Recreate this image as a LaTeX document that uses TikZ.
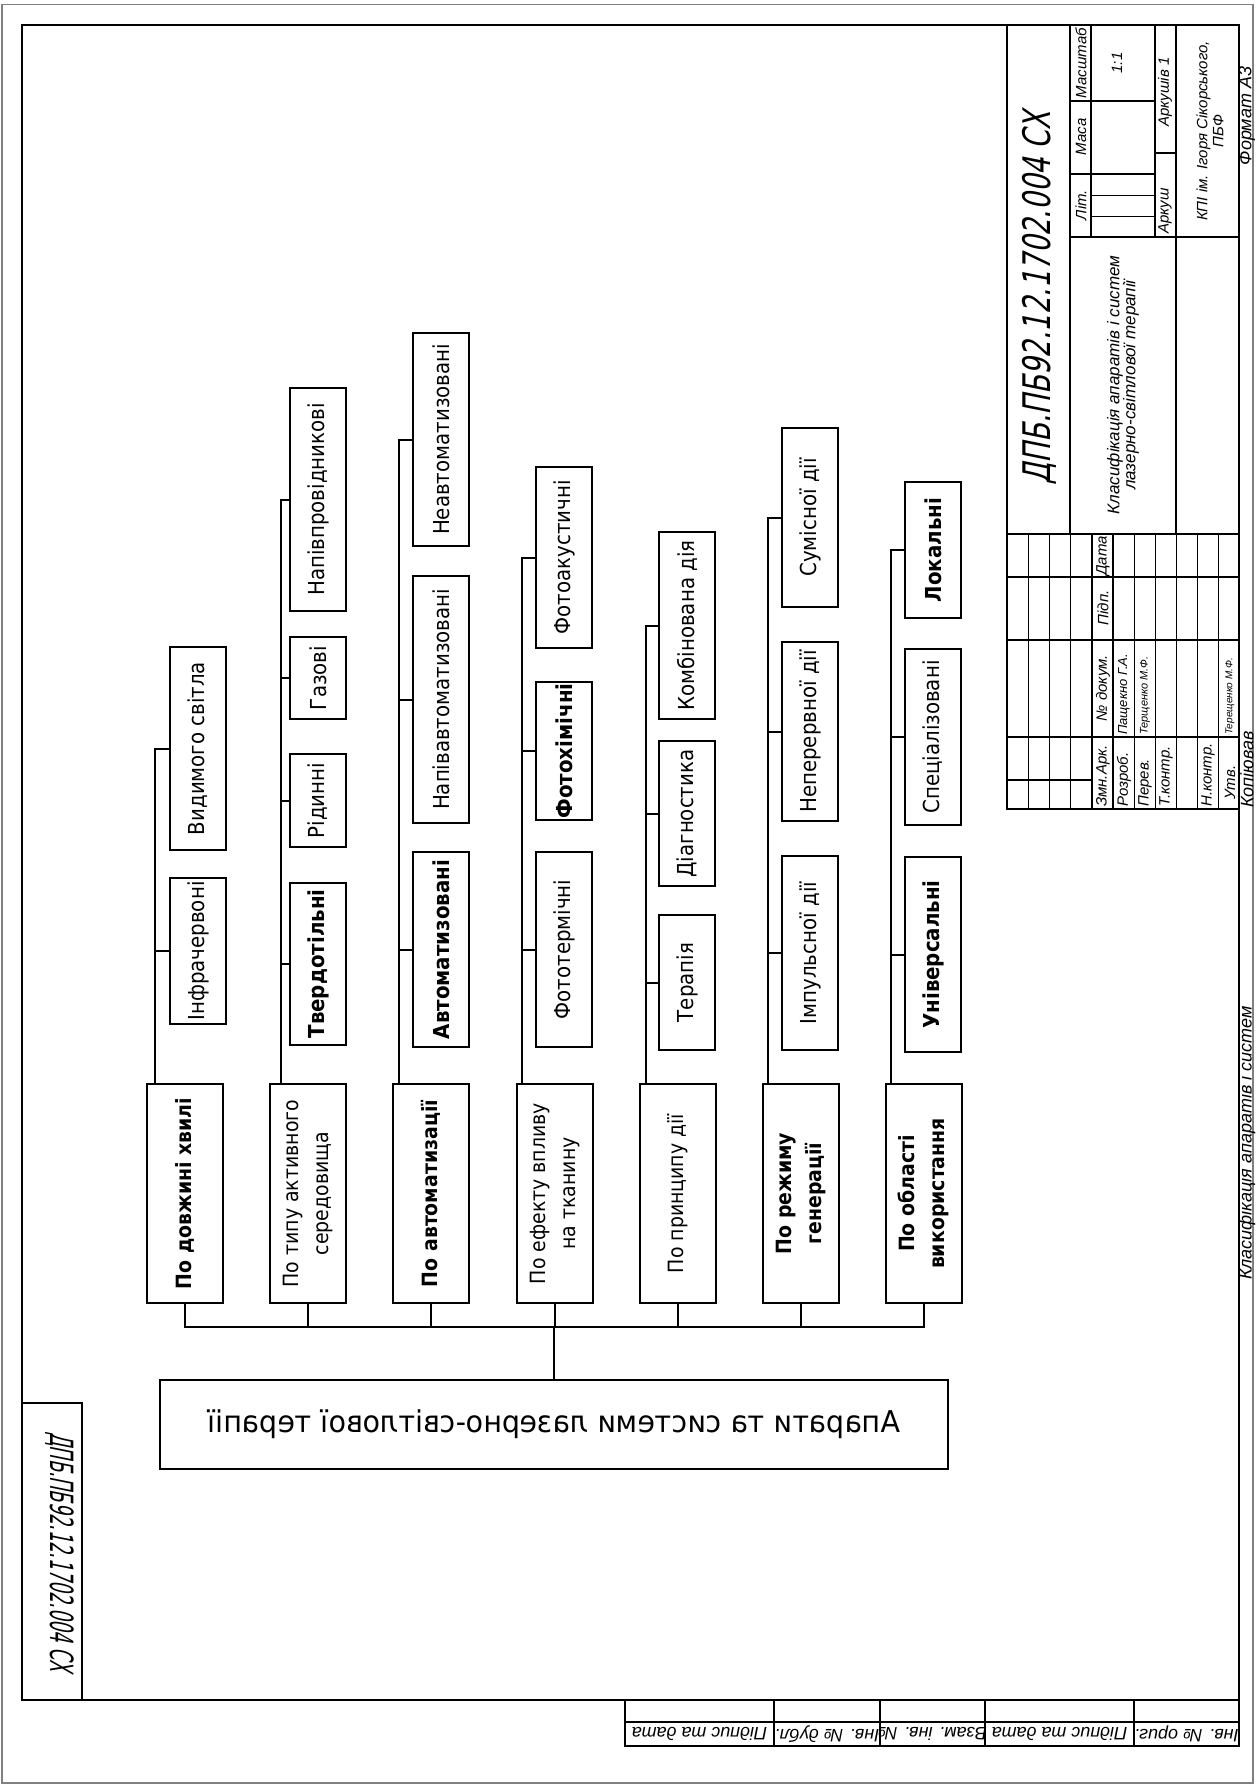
\documentclass[tikz,border=0pt]{standalone}
\usepackage{graphicx}
\usepackage{fontspec}
\setmainfont{Liberation Sans}
\newfontfamily\gost[FakeStretch=0.9]{DejaVu Sans}
\newfontfamily\gostw[FakeStretch=0.95]{DejaVu Sans}
\newfontfamily\gostit[FakeStretch=0.72,FakeSlant=0.2]{DejaVu Sans}
\newfontfamily\gostitn[FakeStretch=0.55,FakeSlant=0.2]{DejaVu Sans}
\tikzset{
  sheetedge/.style={draw=black!50, line width=1.2pt},
  framebox/.style={draw, line width=1.6pt},
  tb/.style={line width=1.4pt},
  tbthin/.style={line width=0.8pt},
  catbox/.style={draw, line width=2pt, inner sep=0pt, minimum width=76pt,
    minimum height=219pt, font=\gost\fontsize{21}{30}\selectfont},
  subbox/.style={draw, line width=2pt, inner sep=0pt, minimum width=56pt,
    font=\gost\fontsize{22}{26}\selectfont},
  rootbox/.style={draw, line width=2pt, inner sep=0pt, minimum width=788pt,
    minimum height=89pt, font=\gostw\fontsize{30}{32}\selectfont},
  conn/.style={line width=2pt},
  tbtext/.style={inner sep=0pt, font=\itshape\fontsize{15}{16}\selectfont},
  outtext/.style={inner sep=0pt, font=\itshape\fontsize{18}{19}\selectfont},
}
\begin{document}
\begin{tikzpicture}[x=1pt,y=-1pt]
\useasboundingbox (0,0) rectangle (1255,1787);
\fill[white] (0,0) rectangle (1255,1787);

% sheet edge and drawing frame
\draw[sheetedge] (2,4.5) rectangle (1253,1783);
\draw[framebox] (22,25) rectangle (1239,1700);

% stamp box with rotated document number
\draw[framebox] (22,1403) -| (82,1700);
\node[rotate=-90, inner sep=0pt, font=\gostitn\fontsize{32}{34}\selectfont] (stampnum) at (60,1552) {ДПБ.ПБ92.12.1702.004 СХ};

% binding strip
\draw[tb] (625,1700) rectangle (1239,1746);
\draw[tb] (625,1722) -- (1239,1722);
\foreach \x in {774,880,985,1134} \draw[tb] (\x,1700) -- (\x,1746);
\node[outtext, rotate=180] (b1) at (699.5,1734) {Підпис та дата};
\node[outtext, rotate=180] (b2) at (827,1734) {Інв. № дубл.};
\node[outtext, rotate=180] (b3) at (932.5,1734) {Взам. інв. №};
\node[outtext, rotate=180] (b4) at (1059.5,1734) {Підпис та дата};
\node[outtext, rotate=180] (b5) at (1186.5,1734) {Інв. № ориг.};

% title block grid
\draw[tb] (1007,25) -- (1007,809) -- (1239,809);
\draw[tb] (1007,534) -- (1239,534);
\draw[tb] (1070,25) -- (1070,534);
\draw[tb] (1070,237) -- (1239,237);
\draw[tb] (1176,25) -- (1176,534);
\draw[tb] (1091,25) -- (1091,237);
\draw[tb] (1155,25) -- (1155,237);
\draw[tb] (1070,174) -- (1155,174);
\draw[tb] (1070,101) -- (1155,101);
\draw[tbthin] (1091,195) -- (1155,195) (1091,216) -- (1155,216);
\draw[tb] (1155,153) -- (1176,153);
\foreach \x in {1028,1049,1070,1134,1155,1176,1197,1218} \draw[tbthin] (\x,534) -- (\x,809);
\draw[tb] (1092,534) -- (1092,809) (1113,534) -- (1113,809);
\foreach \y in {577,640,737} \draw[tb] (1007,\y) -- (1239,\y);
\draw[tb] (1007,780) -- (1092,780);

% title block texts
\node[rotate=90, inner sep=0pt, font=\gostit\fontsize{38}{40}\selectfont] (docnum) at (1039,298) {ДПБ.ПБ92.12.1702.004 СХ};
\node[rotate=90, inner sep=0pt, align=center, font=\itshape\fontsize{17}{16}\selectfont] (dname) at (1123,385) {Класифікація апаратів і систем\\лазерно-світлової терапії};
\node[tbtext, rotate=90] (hlit) at (1081,205) {Літ.};
\node[tbtext, rotate=90] (hmasa) at (1081,137) {Маса};
\node[tbtext, rotate=90] (hmasht) at (1081,63) {Масштаб};
\node[tbtext, rotate=90] (scl) at (1117,63) {1:1};
\node[tbtext, rotate=90, anchor=west] (sh) at (1165,234) {Аркуш};
\node[tbtext, rotate=90] (shs) at (1165,92) {Аркушів 1};
\node[tbtext, rotate=90, align=center] (org) at (1210,131) {КПІ ім. Ігоря Сікорського,\\ПБФ};
\node[tbtext, rotate=90, anchor=west] (hzmn) at (1103,807) {Змн.Арк.};
\node[tbtext, rotate=90] (hdoc) at (1103,688) {№ докум.};
\node[tbtext, rotate=90] (hpidp) at (1103,608) {Підп.};
\node[tbtext, rotate=90] (hdata) at (1103,556) {Дата};
\node[tbtext, rotate=90, anchor=west] (r1) at (1124,807) {Розроб.};
\node[tbtext, rotate=90, anchor=west] (r2) at (1145,807) {Перев.};
\node[tbtext, rotate=90, anchor=west] (r3) at (1166,807) {Т.контр.};
\node[tbtext, rotate=90, anchor=west] (r4) at (1208,807) {Н.контр.};
\node[tbtext, rotate=90, anchor=west] (r5) at (1230,800) {Утв.};
\node[rotate=90, anchor=west, inner sep=0pt, font=\itshape\fontsize{13}{14}\selectfont] (n1) at (1124,735) {Пащекно Г.А.};
\node[rotate=90, anchor=west, inner sep=0pt, font=\itshape\fontsize{11}{12}\selectfont] (n2) at (1145,735) {Терщенко М.Ф.};
\node[rotate=90, anchor=west, inner sep=0pt, font=\itshape\fontsize{10}{11}\selectfont] (n3) at (1230,735) {Терещенко М.Ф.};

% texts outside the frame
\node[outtext, rotate=90, anchor=west] (copyd) at (1247,808) {Копіював};
\node[outtext, rotate=90] (fmt) at (1247,116) {Формат А3};
\node[outtext, rotate=90, anchor=west] (clsf) at (1247,1280) {Класифікація апаратів і систем};

% root of the classification
\node[rootbox, xscale=-1] (root) at (554,1424.5) {Апарати та системи лазерно-світлової терапії};

% classification features
\node[catbox] (c1) at (185,1193.5) {\rotatebox{90}{\bfseries По довжині хвилі}};
\node[catbox] (c2) at (307.5,1193.5) {\rotatebox{90}{\begin{tabular}{@{}c@{}}По типу активного\\середовища\end{tabular}}};
\node[catbox] (c3) at (431,1193.5) {\rotatebox{90}{\bfseries По автоматизації}};
\node[catbox] (c4) at (554.5,1193.5) {\rotatebox{90}{\begin{tabular}{@{}c@{}}По ефекту впливу\\на тканину\end{tabular}}};
\node[catbox] (c5) at (678,1193.5) {\rotatebox{90}{По принципу дії}};
\node[catbox] (c6) at (800.5,1193.5) {\rotatebox{90}{\bfseries\begin{tabular}{@{}c@{}}По режиму\\генерації\end{tabular}}};
\node[catbox] (c7) at (923.5,1193.5) {\rotatebox{90}{\bfseries\begin{tabular}{@{}c@{}}По області\\використання\end{tabular}}};

% bus from the root to the features
\coordinate (bus) at (554,1327);
\draw[conn] (c1.south) -- (c1.south |- bus) -- (c7.south |- bus) -- (c7.south);
\foreach \i in {2,...,6} \draw[conn] (c\i.south) -- (c\i.south |- bus);
\draw[conn] (root.north) -- (root.north |- bus);

% sub-classes
\node[subbox, minimum height=146pt] (s11) at (198,951) {\rotatebox{90}{Інфрачервоні}};
\node[subbox, minimum height=203pt] (s12) at (198,748.5) {\rotatebox{90}{Видимого світла}};

\node[subbox, minimum height=162pt] (s21) at (318,964) {\rotatebox{90}{\bfseries Твердотільні}};
\node[subbox, minimum height=93pt] (s22) at (318,800.5) {\rotatebox{90}{Рідинні}};
\node[subbox, minimum height=82pt] (s23) at (318,678) {\rotatebox{90}{Газові}};
\node[subbox, minimum height=223pt] (s24) at (318,499.5) {\rotatebox{90}{Напівпровідникові}};

\node[subbox, minimum height=195pt] (s31) at (441,949.5) {\rotatebox{90}{\bfseries Автоматизовані}};
\node[subbox, minimum height=247pt] (s32) at (441,699.5) {\rotatebox{90}{Напівавтоматизовані}};
\node[subbox, minimum height=213pt] (s33) at (441,439.5) {\rotatebox{90}{Неавтоматизовані}};

\node[subbox, minimum height=195pt] (s41) at (564,949.5) {\rotatebox{90}{Фототермічні}};
\node[subbox, minimum height=138pt] (s42) at (564,751) {\rotatebox{90}{\bfseries Фотохімічні}};
\node[subbox, minimum height=181pt] (s43) at (564,557.5) {\rotatebox{90}{Фотоакустичні}};

\node[subbox, minimum height=135pt] (s51) at (687,982.5) {\rotatebox{90}{Терапія}};
\node[subbox, minimum height=145pt] (s52) at (687,813.5) {\rotatebox{90}{Діагностика}};
\node[subbox, minimum height=187pt] (s53) at (687,625.5) {\rotatebox{90}{Комбінована дія}};

\node[subbox, minimum height=194pt] (s61) at (810,953) {\rotatebox{90}{Імпульсної дії}};
\node[subbox, minimum height=179pt] (s62) at (810,731.5) {\rotatebox{90}{Неперервної дії}};
\node[subbox, minimum height=179pt] (s63) at (810,517.5) {\rotatebox{90}{Сумісної дії}};

\node[subbox, minimum height=195pt] (s71) at (933,954.5) {\rotatebox{90}{\bfseries Універсальні}};
\node[subbox, minimum height=176pt] (s72) at (933,737) {\rotatebox{90}{Спеціалізовані}};
\node[subbox, minimum height=136pt] (s73) at (933,550) {\rotatebox{90}{\bfseries Локальні}};

% trunks and branches
\coordinate (t1) at (155,0);
\coordinate (t2) at (281,0);
\coordinate (t3) at (399,0);
\coordinate (t4) at (522,0);
\coordinate (t5) at (646,0);
\coordinate (t6) at (768,0);
\coordinate (t7) at (891,0);

\draw[conn] (t1 |- c1.north) -- (t1 |- s12.west) -- (s12.west);
\draw[conn] (t1 |- s11.west) -- (s11.west);

\draw[conn] (t2 |- c2.north) -- (t2 |- s24.west) -- (s24.west);
\foreach \s in {s21,s22,s23} \draw[conn] (t2 |- \s.west) -- (\s.west);

\draw[conn] (t3 |- c3.north) -- (t3 |- s33.west) -- (s33.west);
\foreach \s in {s31,s32} \draw[conn] (t3 |- \s.west) -- (\s.west);

\draw[conn] (t4 |- c4.north) -- (t4 |- s43.west) -- (s43.west);
\foreach \s in {s41,s42} \draw[conn] (t4 |- \s.west) -- (\s.west);

\draw[conn] (t5 |- c5.north) -- (t5 |- s53.west) -- (s53.west);
\foreach \s in {s51,s52} \draw[conn] (t5 |- \s.west) -- (\s.west);

\draw[conn] (t6 |- c6.north) -- (t6 |- s63.west) -- (s63.west);
\foreach \s in {s61,s62} \draw[conn] (t6 |- \s.west) -- (\s.west);

\draw[conn] (t7 |- c7.north) -- (t7 |- s73.west) -- (s73.west);
\foreach \s in {s71,s72} \draw[conn] (t7 |- \s.west) -- (\s.west);
\end{tikzpicture}
\end{document}
